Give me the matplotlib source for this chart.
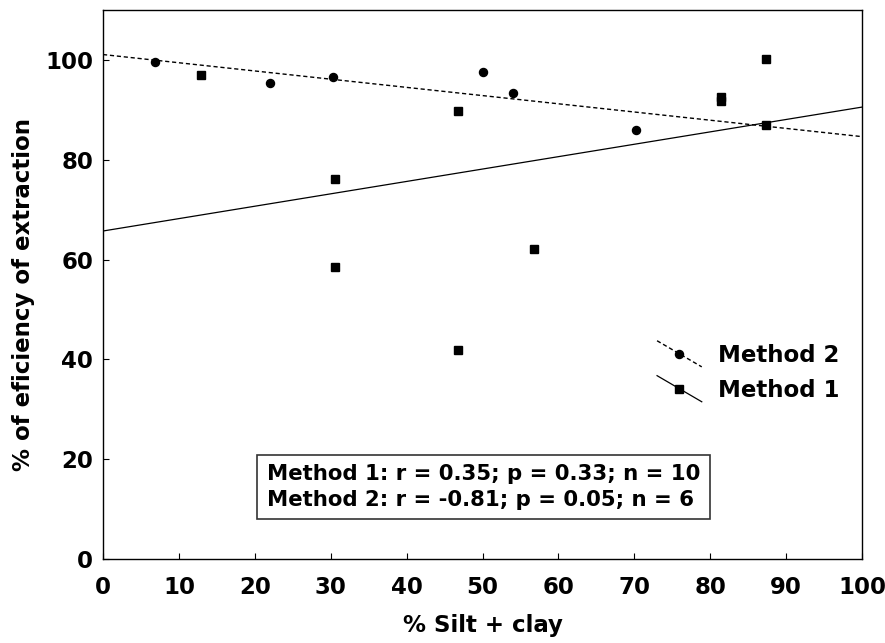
import numpy
from matplotlib import pyplot
from matplotlib.legend_handler import HandlerLine2D
from matplotlib.lines import Line2D

# Data
method1X = [12.9, 30.6, 30.6, 46.8, 46.8, 56.8, 81.4, 81.4, 87.4, 87.4]
method1Y = [96.9, 76.2, 58.5, 89.7, 41.8, 62.2, 92.6, 91.8, 100.1, 87.0]
method2X = [6.9, 22.0, 30.3, 50.0, 54.0, 70.2]
method2Y = [99.5, 95.4, 96.5, 97.5, 93.3, 85.9]
statsText = "Method 1: r = 0.35; p = 0.33; n = 10\nMethod 2: r = -0.81; p = 0.05; n = 6"
xTicks = list(range(0, 101, 10))
yTicks = list(range(0, 101, 20))


class SlantHandler(HandlerLine2D):
    # legend key drawn as a short slanted line with the marker in the middle
    def create_artists(self, legend, orig_handle, xdescent, ydescent, width, height, fontsize, trans):
        x0 = -xdescent
        x1 = -xdescent + width
        yc = -ydescent + height / 2
        drop = 9.4
        line = Line2D([x0, x1], [yc + drop, yc - drop], color="black",
                      linestyle=orig_handle.get_linestyle(), linewidth=orig_handle.get_linewidth())
        if orig_handle.get_linestyle() == "--":
            line.set_dashes((3, 2))
        mark = Line2D([(x0 + x1) / 2], [yc], linestyle="None", marker=orig_handle.get_marker(),
                      markersize=orig_handle.get_markersize(), color="black")
        line.set_transform(trans)
        mark.set_transform(trans)
        return [line, mark]


pyplot.rcParams["font.family"] = ["DejaVu Sans"]
pyplot.rcParams["font.weight"] = "bold"

figure = pyplot.figure(figsize=(8.85, 6.43), dpi=100)
axis = figure.add_axes([0.1164, 0.1306, 0.8576, 0.8538])

# Regression lines
xs = numpy.array([0, 100])
fit1 = numpy.polyfit(method1X, method1Y, 1)
fit2 = numpy.polyfit(method2X, method2Y, 1)
axis.plot(xs, numpy.polyval(fit2, xs), color="black", linewidth=1.0, dashes=(3, 2))
axis.plot(xs, numpy.polyval(fit1, xs), color="black", linewidth=0.9)

# Points
axis.plot(method2X, method2Y, linestyle="None", marker="o", markersize=5.8, color="black")
axis.plot(method1X, method1Y, linestyle="None", marker="s", markersize=6.2, color="black")

axis.set_xlim(0, 100)
axis.set_ylim(0, 110)
axis.set_xticks(xTicks)
axis.set_yticks(yTicks)
axis.tick_params(direction="in", length=4, width=0.8, labelsize=16.5)
axis.tick_params(axis="x", pad=12)
axis.tick_params(axis="y", pad=7)
for spine in axis.spines.values():
    spine.set_linewidth(1.0)

axis.set_xlabel("% Silt + clay", fontsize=16.5, fontweight="bold")
axis.set_ylabel("% of eficiency of extraction", fontsize=16.5, fontweight="bold")
axis.xaxis.set_label_coords(0.5, -0.1)
axis.yaxis.set_label_coords(-0.09, 0.481)

handles = [
    Line2D([], [], color="black", linestyle="--", linewidth=1.0, marker="o", markersize=5.8),
    Line2D([], [], color="black", linestyle="-", linewidth=0.9, marker="s", markersize=6.2),
]
axis.legend(handles, ["Method 2", "Method 1"], handler_map={Line2D: SlantHandler()},
            loc="upper left", bbox_to_anchor=(0.73, 0.392), frameon=False, fontsize=16.5,
            handlelength=1.95, handletextpad=0.7, labelspacing=0.52, borderpad=0, borderaxespad=0)

axis.text(0.2157, 0.131, statsText, transform=axis.transAxes, fontsize=15.3, fontweight="bold",
          va="center", ha="left", linespacing=1.35,
          bbox=dict(boxstyle="square,pad=0.45", facecolor="white", edgecolor="#333333", linewidth=1.2))

pyplot.savefig("out.png", dpi=100)
